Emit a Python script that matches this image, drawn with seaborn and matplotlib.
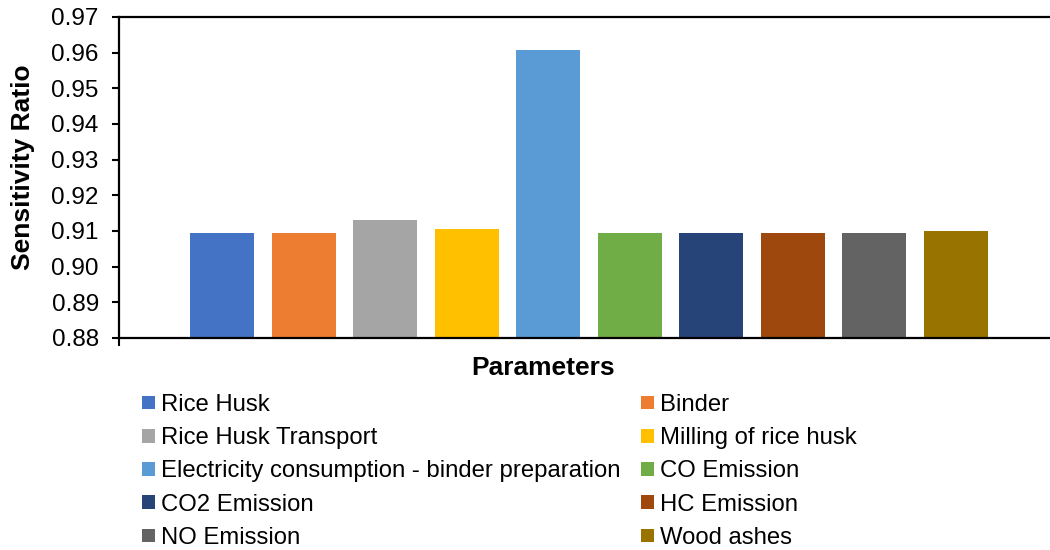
import matplotlib
matplotlib.use("Agg")
import matplotlib.pyplot as plt
import seaborn as sns
import pandas as pd
from matplotlib.patches import Patch

# data
parameters = [
    "Rice Husk",
    "Binder",
    "Rice Husk Transport",
    "Milling of rice husk",
    "Electricity consumption - binder preparation",
    "CO Emission",
    "CO2 Emission",
    "HC Emission",
    "NO Emission",
    "Wood ashes",
]
sensitivity_ratio = [0.9094, 0.9094, 0.9132, 0.9105, 0.9608,
                     0.9094, 0.9094, 0.9094, 0.9094, 0.9100]
bar_colors = ["#4472C4", "#ED7D31", "#A5A5A5", "#FFC000", "#5B9BD5",
              "#70AD47", "#264478", "#9E480E", "#636363", "#997300"]
y_ticks = [0.88, 0.89, 0.90, 0.91, 0.92, 0.93, 0.94, 0.95, 0.96, 0.97]

df = pd.DataFrame({
    "group": ["Parameters"] * len(parameters),
    "parameter": parameters,
    "ratio": sensitivity_ratio,
})

sns.set_style("white")
plt.rcParams["font.family"] = ["Liberation Sans", "DejaVu Sans"]
plt.rcParams["text.color"] = "black"
plt.rcParams["axes.labelcolor"] = "black"
plt.rcParams["xtick.color"] = "black"
plt.rcParams["ytick.color"] = "black"

fig = plt.figure(figsize=(10.5, 5.5), dpi=100)
ax = fig.add_axes([119 / 1050, 1 - 338 / 550, 940 / 1050, 321 / 550])

sns.barplot(data=df, x="group", y="ratio", hue="parameter",
            hue_order=parameters, palette=bar_colors, width=0.867, gap=0.21,
            saturation=1, linewidth=0, legend=False, ax=ax)

ax.set_xlim(-0.5, 0.5)
ax.set_ylim(0.88, 0.97)
ax.set_yticks(y_ticks)
ax.set_yticklabels([f"{v:.2f}" for v in y_ticks], fontsize=17.5)
ax.set_xticks([-0.5])
ax.set_xticklabels([""])
ax.tick_params(axis="y", direction="out", length=5, width=1.5, left=True, pad=9.5)
ax.tick_params(axis="x", direction="out", length=6, width=1.5, bottom=True)

for side in ["left", "bottom", "top"]:
    ax.spines[side].set_visible(True)
    ax.spines[side].set_color("black")
    ax.spines[side].set_linewidth(1.6)
ax.spines["right"].set_visible(False)

ax.set_ylabel("Sensitivity Ratio", fontsize=19, fontweight="bold")
ax.yaxis.set_label_coords(-0.089, (338 - 167) / 321)
ax.set_xlabel("Parameters", fontsize=19, fontweight="bold")
ax.xaxis.set_label_coords((543 - 119) / 940, -0.055)

# Excel-style legend filled row by row in two columns
handles = [Patch(facecolor=c, edgecolor="none") for c in bar_colors]
order = [0, 2, 4, 6, 8, 1, 3, 5, 7, 9]
fig.legend([handles[i] for i in order], [parameters[i] for i in order],
           ncol=2, loc="upper left", bbox_to_anchor=(142 / 1050, 1 - 394 / 550),
           frameon=False, fontsize=17.2, handlelength=0.55, handleheight=0.5,
           handletextpad=0.25, columnspacing=0.85, labelspacing=0.47,
           borderpad=0, borderaxespad=0)

fig.savefig("out.png", dpi=100)
